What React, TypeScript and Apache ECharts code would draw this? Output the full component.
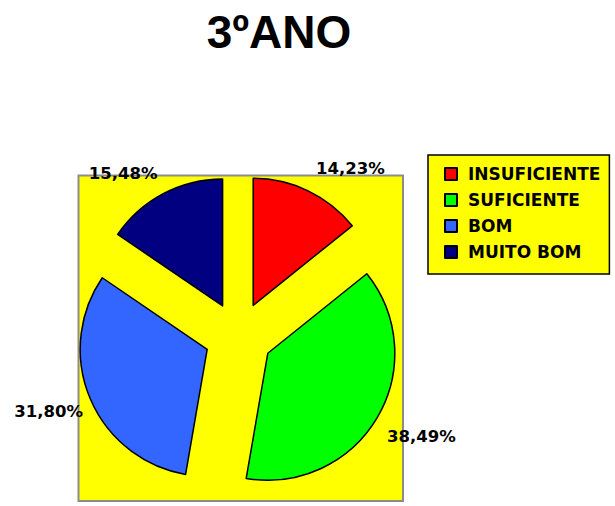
import React, { useEffect, useRef } from "react";
import * as echarts from "echarts";

const categories = ["INSUFICIENTE", "SUFICIENTE", "BOM", "MUITO BOM"];
const values = [14.23, 38.49, 31.8, 15.48];
const colors = ["#FF0000", "#00FF00", "#3366FF", "#000080"];
const titleText = "3ºANO";
// small per-label nudges (pixels) to mimic the original label placement
const labelNudges = [
  [-2, -2],
  [-10, 7],
  [14, 4],
  [5, 0],
];

export default function App() {
  const ref = useRef<HTMLDivElement>(null);
  useEffect(() => {
    if (!ref.current) return;
    const chart = echarts.init(ref.current, null, { renderer: "svg" });
    chart.setOption({
      animation: false,
      backgroundColor: "#FFFFFF",
      title: {
        text: titleText,
        left: 274,
        textAlign: "center",
        top: 4,
        textStyle: {
          fontFamily: "Liberation Sans",
          fontWeight: "bold",
          fontSize: 46,
          color: "#000000",
        },
      },
      graphic: [
        {
          type: "rect",
          z: 0,
          shape: { x: 78.5, y: 175.5, width: 324.5, height: 325.5 },
          style: { fill: "#FFFF00", stroke: "#8C8C8C", lineWidth: 2 },
        },
      ],
      legend: {
        orient: "vertical",
        left: 428,
        top: 155,
        backgroundColor: "#FFFF00",
        borderColor: "#000000",
        borderWidth: 1.5,
        borderRadius: 0,
        padding: [9, 9, 12, 16],
        itemWidth: 12,
        itemHeight: 12,
        itemGap: 6,
        icon: "rect",
        selectedMode: false,
        textStyle: {
          fontFamily: "DejaVu Sans",
          fontWeight: "bold",
          fontSize: 17,
          lineHeight: 20,
          color: "#000000",
          padding: [0, 0, 0, 6],
        },
        data: categories,
      },
      series: [
        {
          type: "pie",
          z: 2,
          center: [238.5, 336],
          radius: 127,
          startAngle: 90,
          clockwise: true,
          selectedMode: "multiple",
          selectedOffset: 34,
          silent: true,
          emphasis: { disabled: true },
          itemStyle: { borderColor: "#000000", borderWidth: 1.5 },
          label: {
            show: true,
            position: "outside",
            distanceToLabelLine: 0,
            formatter: (p: any) => p.value.toFixed(2).replace(".", ",") + "%",
            fontFamily: "DejaVu Sans",
            fontWeight: "bold",
            fontSize: 16.5,
            color: "#000000",
          },
          labelLine: { show: false, length: 23, length2: 0 },
          labelLayout: (p: any) => ({
            dx: labelNudges[p.dataIndex][0],
            dy: labelNudges[p.dataIndex][1],
          }),
          data: categories.map((name, i) => ({
            name,
            value: values[i],
            selected: true,
            itemStyle: { color: colors[i] },
          })),
        },
      ],
    });
    return () => chart.dispose();
  }, []);
  return (
    <div
      ref={ref}
      style={{ position: "fixed", left: 0, top: 0, width: 615, height: 506 }}
    />
  );
}
